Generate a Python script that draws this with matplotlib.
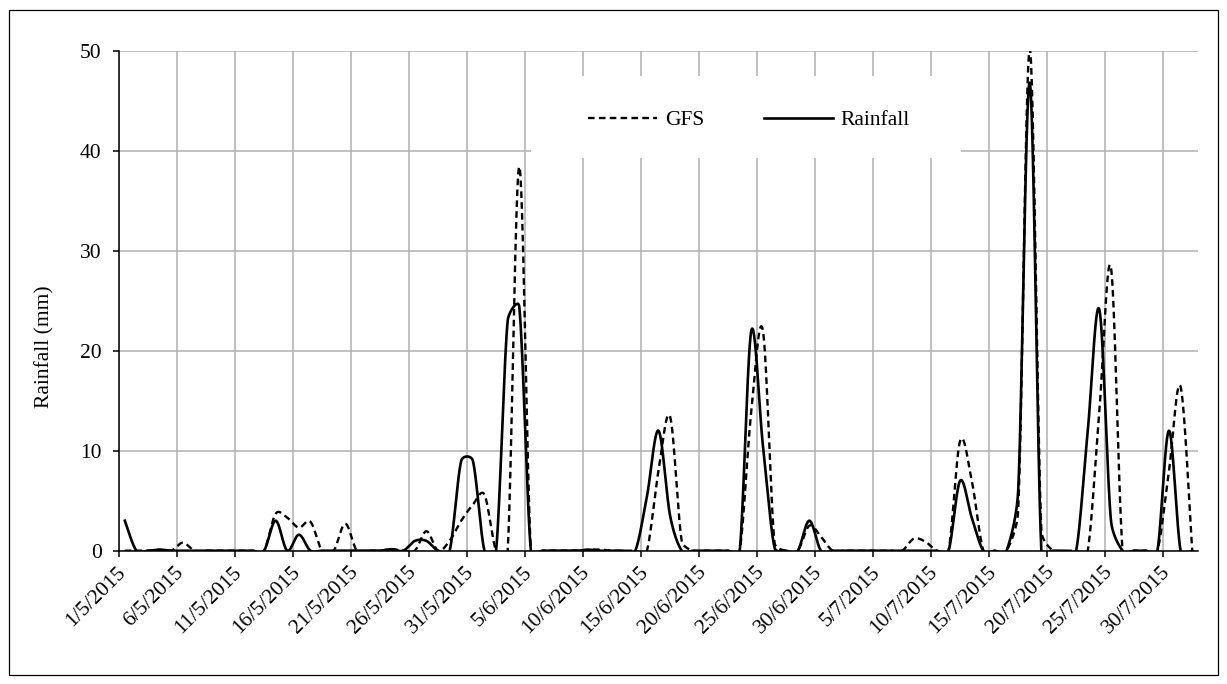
import numpy as np
import matplotlib
matplotlib.use("Agg")
import matplotlib.pyplot as plt
from matplotlib.lines import Line2D
from matplotlib.patches import Rectangle
from matplotlib.transforms import ScaledTranslation

# ---------------- data (daily values from 1/5/2015) ----------------
date_labels = ['1/5/2015', '6/5/2015', '11/5/2015', '16/5/2015', '21/5/2015',
               '26/5/2015', '31/5/2015', '5/6/2015', '10/6/2015', '15/6/2015',
               '20/6/2015', '25/6/2015', '30/6/2015', '5/7/2015', '10/7/2015',
               '15/7/2015', '20/7/2015', '25/7/2015', '30/7/2015']
tick_days = list(range(0, 91, 5))

rainfall = [
    3.0, 0, 0, 0.1, 0, 0, 0, 0, 0, 0,          # 0-9
    0, 0, 0, 3.0, 0, 1.6, 0, 0, 0, 0,          # 10-19
    0, 0, 0, 0.15, 0, 0.98, 0.98, 0, 0, 9.0,   # 20-29
    9.0, 0, 0, 23.0, 24.4, 0, 0, 0, 0, 0,      # 30-39
    0.1, 0, 0, 0, 0, 5.4, 12.0, 3.5, 0, 0,     # 40-49
    0, 0, 0, 0, 22.0, 10.5, 0.3, 0, 0, 3.0,    # 50-59
    0, 0, 0, 0, 0, 0, 0, 0, 0, 0,              # 60-69
    0, 0, 7.0, 3.3, 0, 0, 0, 6.0, 46.8, 0,     # 70-79
    0, 0, 0, 12.0, 24.1, 3.0, 0, 0, 0, 0,      # 80-89
    12.0, 0, 0]                                # 90-92

gfs = [
    0, 0, 0, 0.1, 0, 0.8, 0, 0, 0, 0,          # 0-9
    0, 0, 0, 3.7, 3.3, 2.3, 2.9, 0, 0, 2.7,    # 10-19
    0, 0, 0, 0.15, 0, 0, 1.95, 0, 1.0, 3.0,    # 20-29
    4.6, 5.6, 0, 0, 38.4, 0, 0, 0, 0, 0,       # 30-39
    0.1, 0.1, 0, 0, 0, 0, 8.0, 13.4, 1.0, 0,   # 40-49
    0, 0, 0, 0, 14.0, 22.0, 0.8, 0, 0, 2.5,    # 50-59
    1.4, 0, 0, 0, 0, 0, 0, 0, 1.2, 0.9,        # 60-69
    0, 0, 11.0, 7.0, 0, 0, 0, 4.0, 50.2, 2.0,  # 70-79
    0, 0, 0, 0, 14.0, 28.3, 0, 0, 0, 0,        # 80-89
    8.0, 16.4, 0]                              # 90-92

# ---------------- figure ----------------
W, H = 1227, 684
plt.rcParams['font.family'] = ['Liberation Serif', 'DejaVu Serif']
FS = 15.5

fig = plt.figure(figsize=(W / 100, H / 100), dpi=100)
fig.add_artist(Rectangle((9 / W, 1 - 675 / H), (1218 - 9) / W, (675 - 10) / H,
                         transform=fig.transFigure, fill=False, lw=0.9,
                         ec='black'))

ax = fig.add_axes([119 / W, 1 - 550.7 / H, 1079 / W, 500 / H])
ax.set_xlim(0, 93)
ax.set_ylim(0, 50)
ax.set_axisbelow(True)
for s in ('top', 'right'):
    ax.spines[s].set_visible(False)
for s in ('left', 'bottom'):
    ax.spines[s].set_linewidth(1.1)
    ax.spines[s].set_color('black')

ax.set_xticks(tick_days)
ax.set_xticklabels(date_labels, rotation=45, ha='right', va='center',
                   rotation_mode='anchor')
ax.set_yticks(range(0, 51, 10))
ax.tick_params(axis='both', direction='out', length=4.5, width=1.1,
               labelsize=FS, color='black')
ax.tick_params(axis='x', pad=9)
ax.tick_params(axis='y', pad=8)
ax.grid(True, color='#b0b0b0', lw=1.1)
shift = ScaledTranslation(4 / 100, 0, fig.dpi_scale_trans)
for lab in ax.get_xticklabels():
    lab.set_transform(lab.get_transform() + shift)

# white legend area covering the gridlines
ax.add_patch(Rectangle((0.3818, 0.785), 0.3986, 0.164, transform=ax.transAxes,
                       fc='white', ec='none', zorder=1))


def excel_smooth(x, y, n=30):
    """Excel-style smoothed line (Bezier, computed in screen space)."""
    P = ax.transData.transform(np.column_stack([x, y]))
    N = len(P)
    out = [P[0]]
    t = np.linspace(0, 1, n)[1:][:, None]
    for i in range(N - 1):
        p0 = P[i - 1] if i > 0 else P[i]
        p1 = P[i]
        p2 = P[i + 1]
        p3 = P[i + 2] if i + 2 < N else P[i + 1]
        d02 = np.hypot(*(p2 - p0))
        d12 = np.hypot(*(p2 - p1))
        d13 = np.hypot(*(p3 - p1))
        c02 = d02 / 6 >= d12 / 2
        c13 = d13 / 6 >= d12 / 2
        if not c02 and not c13:
            b1 = p1 + (p2 - p0) / 6
            b2 = p2 - (p3 - p1) / 6
        elif c02 and c13:
            b1 = p1 + (p2 - p0) * (d12 / 2 / d02)
            b2 = p2 - (p3 - p1) * (d12 / 2 / d13)
        elif c02:
            b1 = p1 + (p2 - p0) * (d12 / 2 / d02)
            b2 = p2 - (p3 - p1) * (d12 / 2 / d02)
        else:
            b1 = p1 + (p2 - p0) * (d12 / 2 / d13)
            b2 = p2 - (p3 - p1) * (d12 / 2 / d13)
        seg = ((1 - t) ** 3) * p1 + 3 * ((1 - t) ** 2) * t * b1 \
            + 3 * (1 - t) * t ** 2 * b2 + t ** 3 * p2
        out.extend(seg)
    out = np.array(out)
    d = ax.transData.inverted().transform(out)
    return d[:, 0], d[:, 1]


xpos = np.arange(len(rainfall)) + 0.5
GFS_STYLE = dict(color='black', lw=1.7, linestyle=(0, (2.8, 1.8)))
RAIN_STYLE = dict(color='black', lw=1.9, linestyle='-', solid_joinstyle='round')

gx, gy = excel_smooth(xpos, np.array(gfs, float))
ax.plot(gx, gy, zorder=3, **GFS_STYLE)
rx, ry = excel_smooth(xpos, np.array(rainfall, float))
ax.plot(rx, ry, zorder=4, **RAIN_STYLE)

handles = [Line2D([], [], **GFS_STYLE), Line2D([], [], **RAIN_STYLE)]
ax.legend(handles, ['GFS', 'Rainfall'], loc='center',
          bbox_to_anchor=(0.584, 0.861), ncol=2, frameon=False,
          handlelength=3.2, handletextpad=0.37, columnspacing=2.75,
          prop={'size': FS})

fig.text(45 / W, 1 - 347 / H, 'Rainfall (mm)', rotation=90, ha='center',
         va='center', fontsize=FS)

fig.savefig('out.png', dpi=100)
